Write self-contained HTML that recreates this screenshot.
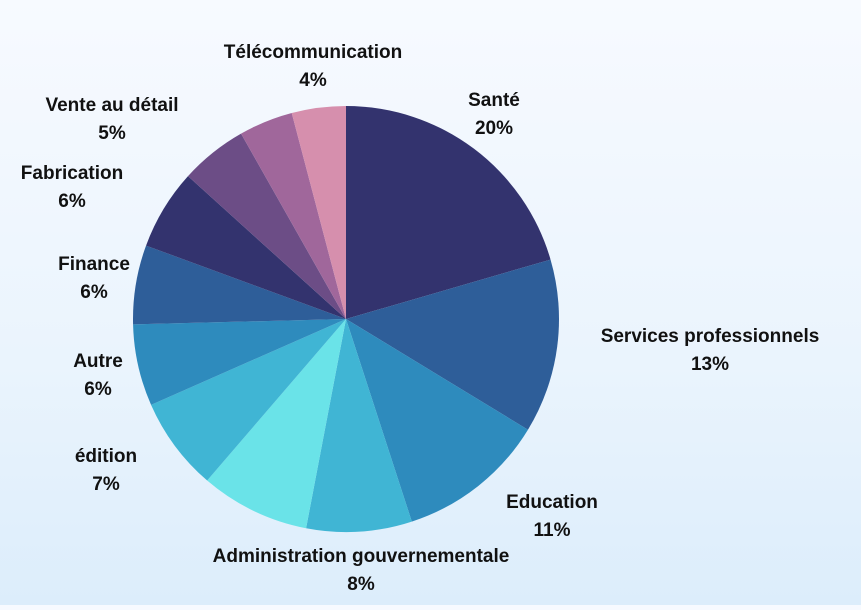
<!DOCTYPE html>
<html><head><meta charset="utf-8"><style>
html,body{margin:0;padding:0;}
body{width:861px;height:605px;overflow:hidden;background:linear-gradient(180deg,#f7faff 0%,#eaf4fd 60%,#dcedfb 100%);font-family:"Liberation Sans",sans-serif;}
text{font-family:"Liberation Sans",sans-serif;font-weight:bold;font-size:19px;fill:#111;}
</style></head><body>
<svg id="chart" width="861" height="605" xmlns="http://www.w3.org/2000/svg"></svg>
<script>
const categories=["Santé","Services professionnels","Education","Administration gouvernementale","","édition","Autre","Finance","Fabrication","Vente au détail","Télécommunication",""];
const values=[20.5,13.2,11.3,8.0,8.3,7.1,6.2,6.0,6.1,5.1,4.1,4.1];
const pctLabels=["20%","13%","11%","8%","","7%","6%","6%","6%","5%","4%",""];
const colors=["#33336e","#2e5e99","#2e8bbd","#40b5d4","#6ae3e8","#40b5d4","#2e8bbd","#2e5e99","#33336e","#6c4d86","#a0679b","#d68fad"];
const labelPos=[[494,106],[710,342],[552,508],[361,562],null,[106,462],[98,367],[94,270],[72,179],[112,111],[313,58],null];
const cx=346,cy=319,r=213;
const svg=document.getElementById('chart');
const NS="http://www.w3.org/2000/svg";
const total=values.reduce((a,b)=>a+b,0);
function pt(a){return [cx+r*Math.sin(a),cy-r*Math.cos(a)];}
let acc=0;
values.forEach((v,i)=>{
  const a0=acc/total*2*Math.PI; acc+=v; const a1=acc/total*2*Math.PI;
  const p0=pt(a0),p1=pt(a1);
  const large=(a1-a0)>Math.PI?1:0;
  const p=document.createElementNS(NS,'path');
  p.setAttribute('d',`M${cx},${cy}L${p0[0]},${p0[1]}A${r},${r} 0 ${large} 1 ${p1[0]},${p1[1]}Z`);
  p.setAttribute('fill',colors[i]);
  
  
  svg.appendChild(p);
});
categories.forEach((c,i)=>{
  if(!labelPos[i]) return;
  const t=document.createElementNS(NS,'text');
  t.setAttribute('x',labelPos[i][0]);t.setAttribute('y',labelPos[i][1]);
  t.setAttribute('text-anchor','middle');
  
  
  const s1=document.createElementNS(NS,'tspan');s1.setAttribute('x',labelPos[i][0]);s1.textContent=c;
  const s2=document.createElementNS(NS,'tspan');s2.setAttribute('x',labelPos[i][0]);s2.setAttribute('dy','28');s2.textContent=pctLabels[i];
  t.appendChild(s1);t.appendChild(s2);
  svg.appendChild(t);
});
</script>
</body></html>
